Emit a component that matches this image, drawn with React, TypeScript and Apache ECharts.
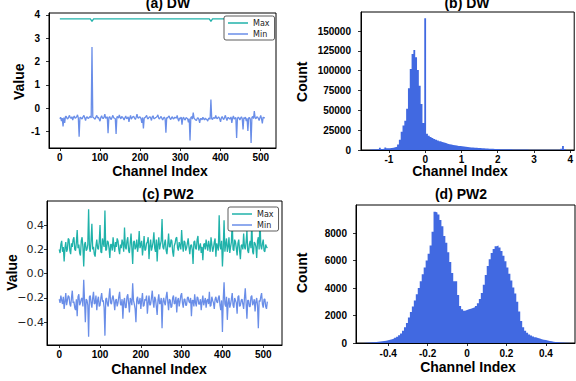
import React, { useEffect, useRef } from "react";
import * as echarts from "echarts";

// ---------- data ----------
const LINE_STEP = 2; // channel spacing of the sampled min/max values
const DW_MAX_STEP = 4;

const dwMax = [
  3.83, 3.83, 3.83, 3.83, 3.83, 3.83, 3.83, 3.83, 3.83, 3.83, 3.83, 3.83, 3.83, 3.83, 3.83, 3.83,
  3.83, 3.83, 3.83, 3.83, 3.73, 3.83, 3.83, 3.83, 3.83, 3.83, 3.83, 3.83, 3.83, 3.83, 3.83, 3.83,
  3.83, 3.83, 3.83, 3.83, 3.83, 3.83, 3.83, 3.83, 3.83, 3.83, 3.83, 3.83, 3.83, 3.83, 3.83, 3.83,
  3.83, 3.83, 3.83, 3.83, 3.83, 3.83, 3.83, 3.83, 3.83, 3.83, 3.83, 3.83, 3.83, 3.83, 3.83, 3.83,
  3.83, 3.83, 3.83, 3.83, 3.83, 3.83, 3.83, 3.83, 3.83, 3.83, 3.83, 3.83, 3.83, 3.83, 3.83, 3.83,
  3.83, 3.83, 3.83, 3.83, 3.83, 3.83, 3.83, 3.83, 3.83, 3.83, 3.83, 3.83, 3.83, 3.83, 3.73, 3.83,
  3.83, 3.83, 3.83, 3.83, 3.83, 3.83, 3.83, 3.83, 3.83, 3.83, 3.83, 3.83, 3.83, 3.83, 3.83, 3.83,
  3.83, 3.83, 3.83, 3.83, 3.83, 3.83, 3.83, 3.83, 3.83, 3.83, 3.83, 3.83, 3.83, 3.83, 3.83, 3.83,
];

const dwMin = [
  -0.45, -0.38, -0.55, -0.42, -0.78, -0.40, -0.62, -0.35, -0.35, -0.44, -0.45, -0.37, -0.30, -0.41, -0.42, -0.36,
  -0.50, -0.39, -0.33, -0.43, -0.40, -0.36, -0.28, -0.42, -1.22, -0.40, -0.38, -0.45, -0.44, -0.35, -0.30, -0.41,
  -0.52, -0.39, -0.36, -0.43, -0.42, -0.37, -0.34, -0.41, 2.63, -0.38, -0.40, -0.44, -0.46, -0.36, -0.30, -0.42,
  -0.38, -0.47, -0.55, -0.39, -0.32, -0.41, -0.44, -0.37, -0.25, -0.43, -0.40, -0.36, -1.07, -0.40, -0.35, -0.44,
  -0.48, -0.38, -0.30, -0.41, -0.42, -0.45, -1.10, -0.37, -0.36, -0.42, -0.28, -0.39, -0.45, -0.35, -0.38, -0.43,
  -0.50, -0.40, -0.33, -0.44, -0.42, -0.37, -0.58, -0.41, -0.30, -0.46, -0.40, -0.36, -0.35, -0.42, -0.48, -0.38,
  -0.25, -0.40, -0.42, -0.37, -0.38, -0.44, -0.62, -0.39, -0.86, -0.42, -0.40, -0.36, -0.30, -0.43, -0.45, -0.38,
  -0.36, -0.41, -0.52, -0.37, -0.32, -0.44, -0.44, -0.40, -0.38, -0.35, -0.28, -0.42, -0.46, -0.39, -0.35, -0.43,
  -0.50, -0.41, -0.38, -0.44, -1.04, -0.39, -0.42, -0.36, -0.33, -0.43, -0.48, -0.40, -0.36, -0.45, -0.44, -0.38,
  -0.40, -0.42, -0.30, -0.46, -0.55, -0.41, -0.45, -0.37, -0.70, -0.43, -0.38, -0.47, -0.50, -0.40, -0.42, -0.45,
  -0.60, -0.44, -1.38, -0.40, -0.35, -0.46, -0.18, -0.42, -0.46, -0.50, -0.52, -0.43, -0.40, -0.47, -0.62, -0.44,
  -0.44, -0.49, -0.38, -0.45, -0.50, -0.42, -0.46, -0.48, -0.55, -0.44, -0.42, -0.47, 0.38, -0.45, -0.48, -0.41,
  -0.40, -0.44, -0.30, -0.42, -0.45, -0.38, -0.38, -0.46, -0.58, -0.41, -0.35, -0.44, -0.48, -0.39, -0.30, -0.43,
  -0.52, -0.40, -0.40, -0.45, -0.45, -0.37, -0.62, -0.42, -0.33, -0.46, -0.42, -0.39, -1.27, -0.44, -0.38, -0.41,
  -0.50, -0.42, -0.36, -0.45, -0.90, -0.40, -0.44, -0.38, -0.55, -0.43, -0.97, -0.41, -0.40, -0.46, -1.48, -0.39,
  -0.35, -0.44, -0.12, -0.40, -0.45, -0.37, -0.38, -0.43, -0.52, -0.41, -0.30, -0.45, -0.65, -0.38, -0.40, -0.42,
];

const pwMax = [
  0.20, 0.17, 0.24, 0.27, 0.18, 0.22, 0.10, 0.21, 0.26, 0.18, 0.20, 0.29, 0.28, 0.19, 0.16, 0.25,
  0.22, 0.28, 0.30, 0.20, 0.19, 0.26, 0.36, 0.21, 0.24, 0.17, 0.15, 0.27, 0.30, 0.22, 0.06, 0.24,
  0.26, 0.19, 0.20, 0.24, 0.53, 0.21, 0.18, 0.27, 0.41, 0.20, 0.22, 0.16, 0.14, 0.23, 0.28, 0.21,
  0.20, 0.26, 0.40, 0.18, 0.17, 0.29, 0.25, 0.22, 0.52, 0.19, 0.20, 0.27, 0.26, 0.21, 0.13, 0.24,
  0.24, 0.19, 0.30, 0.23, 0.18, 0.26, 0.22, 0.29, 0.27, 0.20, 0.16, 0.24, 0.21, 0.28, 0.25, 0.18,
  0.38, 0.22, 0.20, 0.27, 0.30, 0.19, 0.17, 0.25, 0.33, 0.21, 0.08, 0.26, 0.27, 0.20, 0.22, 0.28,
  0.18, 0.23, 0.35, 0.21, 0.24, 0.27, 0.15, 0.22, 0.31, 0.19, 0.20, 0.25, 0.26, 0.30, 0.12, 0.23,
  0.28, 0.19, 0.22, 0.26, 0.34, 0.21, 0.18, 0.28, 0.10, 0.24, 0.30, 0.20, 0.24, 0.27, 0.45, 0.22,
  0.20, 0.25, 0.28, 0.19, 0.16, 0.24, 0.33, 0.22, 0.22, 0.28, 0.27, 0.18, 0.14, 0.23, 0.25, 0.29,
  0.30, 0.21, 0.19, 0.26, 0.23, 0.20, 0.36, 0.24, 0.18, 0.27, 0.26, 0.19, 0.21, 0.25, 0.29, 0.22,
  0.16, 0.23, 0.24, 0.20, 0.08, 0.26, 0.27, 0.21, 0.20, 0.28, 0.31, 0.19, 0.22, 0.25, 0.17, 0.22,
  0.11, 0.24, 0.25, 0.20, 0.28, 0.23, 0.19, 0.27, 0.23, 0.18, 0.30, 0.24, 0.18, 0.21, 0.26, 0.29,
  0.14, 0.25, 0.22, 0.19, 0.48, 0.23, 0.20, 0.27, 0.06, 0.21, 0.44, 0.18, 0.24, 0.29, 0.18, 0.22,
  0.30, 0.17, 0.22, 0.26, 0.43, 0.20, 0.19, 0.28, 0.26, 0.21, 0.15, 0.25, 0.28, 0.19, 0.12, 0.23,
  0.24, 0.20, 0.33, 0.22, 0.20, 0.26, 0.35, 0.19, 0.17, 0.24, 0.27, 0.21, 0.43, 0.18, 0.16, 0.26,
  0.25, 0.22, 0.13, 0.27, 0.30, 0.20, 0.46, 0.23, 0.20, 0.25, 0.28, 0.19, 0.18, 0.24, 0.22, 0.21,
];

const pwMin = [
  -0.21, -0.24, -0.18, -0.22, -0.25, -0.19, -0.29, -0.23, -0.16, -0.26, -0.22, -0.18, -0.19, -0.25, -0.27, -0.20,
  -0.14, -0.24, -0.23, -0.28, -0.30, -0.21, -0.35, -0.19, -0.17, -0.26, -0.24, -0.21, -0.20, -0.27, -0.05, -0.22,
  -0.40, -0.21, -0.22, -0.26, -0.52, -0.19, -0.18, -0.24, -0.28, -0.20, -0.15, -0.25, -0.24, -0.18, -0.30, -0.22,
  -0.19, -0.27, -0.26, -0.20, -0.16, -0.23, -0.22, -0.28, -0.51, -0.21, -0.20, -0.25, -0.27, -0.19, -0.12, -0.24,
  -0.25, -0.20, -0.18, -0.23, -0.30, -0.22, -0.21, -0.27, -0.24, -0.19, -0.15, -0.25, -0.26, -0.21, -0.37, -0.23,
  -0.20, -0.28, -0.28, -0.19, -0.17, -0.24, -0.32, -0.20, -0.22, -0.26, -0.08, -0.22, -0.25, -0.29, -0.40, -0.21,
  -0.19, -0.25, -0.24, -0.20, -0.29, -0.22, -0.16, -0.27, -0.26, -0.21, -0.22, -0.18, -0.33, -0.24, -0.18, -0.26,
  -0.25, -0.20, -0.14, -0.23, -0.28, -0.19, -0.21, -0.27, -0.34, -0.22, -0.17, -0.25, -0.24, -0.20, -0.45, -0.23,
  -0.20, -0.24, -0.26, -0.19, -0.15, -0.23, -0.30, -0.21, -0.22, -0.28, -0.27, -0.20, -0.18, -0.25, -0.24, -0.19,
  -0.32, -0.22, -0.20, -0.27, -0.23, -0.18, -0.16, -0.24, -0.28, -0.21, -0.21, -0.26, -0.26, -0.20, -0.19, -0.23,
  -0.24, -0.20, -0.35, -0.22, -0.22, -0.27, -0.17, -0.24, -0.27, -0.19, -0.20, -0.25, -0.25, -0.21, -0.30, -0.23,
  -0.18, -0.26, -0.23, -0.20, -0.28, -0.22, -0.21, -0.25, -0.15, -0.27, -0.26, -0.19, -0.22, -0.24, -0.29, -0.21,
  -0.19, -0.23, -0.24, -0.20, -0.18, -0.26, -0.30, -0.22, -0.48, -0.21, -0.07, -0.25, -0.27, -0.19, -0.38, -0.24,
  -0.20, -0.28, -0.25, -0.21, -0.16, -0.26, -0.28, -0.20, -0.22, -0.24, -0.33, -0.19, -0.18, -0.27, -0.26, -0.22,
  -0.21, -0.25, -0.29, -0.20, -0.12, -0.24, -0.37, -0.22, -0.22, -0.27, -0.27, -0.19, -0.18, -0.26, -0.24, -0.21,
  -0.31, -0.23, -0.20, -0.26, -0.45, -0.22, -0.23, -0.19, -0.16, -0.25, -0.28, -0.21, -0.21, -0.27, -0.29, -0.23,
];

// DW histogram: bins of width 0.05 starting at -1.525
const DW_BIN_START = -1.525;
const DW_BIN_WIDTH = 0.05;
const dwCounts = [
  600, 900, 800, 1000, 1300, 2800, 1400, 1600, 3200, 2100,
  2300, 2600, 2900, 3400, 4200, 7000, 13000, 23000, 31000, 37000,
  52000, 78000, 102000, 121000, 126000, 117000, 101000, 81000, 58000, 34000,
  166000, 20500, 18000, 16500, 15000, 14000, 13000, 12000, 11000, 10200,
  9400, 8700, 8000, 7400, 6900, 6400, 6000, 5600, 5200, 4900,
  4600, 4300, 4000, 3700, 3500, 3300, 3100, 2900, 2700, 2500,
  2400, 2200, 2100, 1950, 1800, 1700, 1600, 1500, 1400, 1300,
  1200, 1100, 1050, 1000, 950, 900, 850, 800, 750, 700,
  650, 620, 590, 560, 530, 500, 480, 460, 440, 420,
  400, 380, 360, 340, 330, 320, 310, 300, 290, 280,
  270, 260, 250, 240, 300, 1500, 5000, 1200,
];

// PW2 histogram: bins of width 0.01 starting at -0.52
const PW_BIN_START = -0.52;
const PW_BIN_WIDTH = 0.01;
const pwCounts = [
  20, 30, 40, 50, 60, 75, 90, 110, 130, 150,
  170, 200, 230, 270, 320, 380, 460, 560, 700, 900,
  1150, 1450, 1850, 2250, 2650, 3100, 3550, 4000, 4500, 5000,
  5500, 6000, 6500, 7100, 8100, 9550, 9500, 9350, 8950, 8500,
  7800, 7300, 6600, 5900, 5100, 4500, 4500, 3500, 2700, 2450,
  2350, 2400, 2450, 2500, 2550, 2600, 2700, 2900, 3200, 3650,
  4250, 4950, 5600, 6100, 6550, 6850, 7050, 7100, 6950, 6700,
  6350, 5950, 5500, 5050, 4550, 4050, 3600, 3000, 2300, 1600,
  1150, 900, 750, 620, 540, 470, 410, 360, 320, 280,
  240, 210, 180, 150, 125, 100, 80, 65, 50, 40,
  30, 20, 15, 10,
];

// tick labels
const channelTicks = [0, 100, 200, 300, 400, 500];
const dwLineYTicks = [-1, 0, 1, 2, 3, 4];
const dwHistXTicks = [-1, 0, 1, 2, 3, 4];
const dwHistYTicks = [0, 25000, 50000, 75000, 100000, 125000, 150000];
const pwLineYTicks = [-0.4, -0.2, 0, 0.2, 0.4];
const pwHistXTicks = [-0.4, -0.2, 0, 0.2, 0.4];
const pwHistYTicks = [0, 2000, 4000, 6000, 8000];

// ---------- styles ----------
const MAX_COLOR = "#20B2AA";
const MIN_COLOR = "#6A8EE8";
const HIST_COLOR = "#4169E1";
const SANS = "'Liberation Sans', Arial, sans-serif";

const plainFormatter = (v: number) => String(Math.round(v * 1000) / 1000);

const tickLabel = (values: number[], margin: number, extra: any = {}) => ({
  customValues: values,
  margin,
  fontFamily: SANS,
  fontWeight: "bold",
  fontSize: 10,
  color: "#000",
  formatter: plainFormatter,
  ...extra,
});
const tick = (values: number[]) => ({
  show: true,
  customValues: values,
  inside: false,
  length: 3,
  lineStyle: { color: "#000", width: 0.8 },
});

const makeAxis = (
  gridIndex: number,
  min: number,
  max: number,
  ticks: number[],
  margin: number,
  labelExtra: any = {}
) => ({
  type: "value",
  gridIndex,
  min,
  max,
  splitLine: { show: false },
  axisLine: { show: true, onZero: false, lineStyle: { color: "#000", width: 1 } },
  axisTick: tick(ticks),
  axisLabel: tickLabel(ticks, margin, labelExtra),
});

// histogram outline as step points: each bin's left edge with its count, plus the final right edge
const histPoints = (start: number, width: number, counts: number[]) => {
  const pts = counts.map((c, i) => [start + i * width, c]);
  pts.push([start + counts.length * width, counts[counts.length - 1]]);
  return pts;
};

const histSeries = (axisIndex: number, points: number[][]) => ({
  type: "line",
  xAxisIndex: axisIndex,
  yAxisIndex: axisIndex,
  step: "end",
  data: points,
  showSymbol: false,
  symbol: "none",
  lineStyle: { width: 0, color: HIST_COLOR },
  areaStyle: { color: HIST_COLOR, opacity: 1, origin: "start" },
  itemStyle: { color: HIST_COLOR },
  clip: true,
});

const lineSeries = (name: string, axisIndex: number, values: number[], step: number, color: string) => ({
  name,
  type: "line",
  xAxisIndex: axisIndex,
  yAxisIndex: axisIndex,
  data: values.map((v, i) => [i * step, v]),
  showSymbol: false,
  symbol: "none",
  lineStyle: { color, width: 1.3 },
  itemStyle: { color },
  clip: true,
});

const text = (t: string, x: number, y: number, size: number, rotate = 0, extra: any = {}) => ({
  type: "text",
  x,
  y,
  rotation: rotate,
  style: {
    text: t,
    fontFamily: SANS,
    fontWeight: "bold",
    fontSize: size,
    fill: "#000",
    align: "center",
    verticalAlign: "middle",
    ...extra,
  },
});

const legendBox = (left: number, top: number) => ({
  data: ["Max", "Min"],
  left,
  top,
  orient: "vertical",
  icon: "rect",
  itemWidth: 20,
  itemHeight: 1.5,
  itemGap: 3,
  padding: [3, 5, 2, 4],
  borderColor: "#333",
  borderWidth: 0.8,
  borderRadius: 2,
  backgroundColor: "#fff",
  selectedMode: false,
  textStyle: { fontFamily: "'DejaVu Sans', sans-serif", fontSize: 8, color: "#222" },
});

export default function App() {
  const ref = useRef<HTMLDivElement>(null);
  useEffect(() => {
    if (!ref.current) return;
    const chart = echarts.init(ref.current, null, { renderer: "svg" });
    const pwYFormatter = (v: number) => {
      const s = Math.abs(v).toFixed(1);
      return v < -1e-9 ? "\u2212" + s : s;
    };
    chart.setOption({
      animation: false,
      backgroundColor: "#fff",
      grid: [
        { left: 49, top: 13, width: 227, height: 135, show: true, borderColor: "#000", borderWidth: 1, containLabel: false },
        { left: 361, top: 12, width: 214, height: 138, show: true, borderColor: "#000", borderWidth: 1, containLabel: false },
        { left: 47, top: 201, width: 235, height: 144, show: true, borderColor: "#000", borderWidth: 1, containLabel: false },
        { left: 356, top: 205, width: 219, height: 138, show: true, borderColor: "#000", borderWidth: 1, containLabel: false },
      ],
      xAxis: [
        makeAxis(0, -27, 538, channelTicks, 4),
        makeAxis(1, -1.77, 4.11, dwHistXTicks, 4),
        makeAxis(2, -30, 546, channelTicks, 4),
        makeAxis(3, -0.5635, 0.548, pwHistXTicks, 5),
      ],
      yAxis: [
        makeAxis(0, -1.7, 4.085, dwLineYTicks, 9),
        makeAxis(1, 0, 174000, dwHistYTicks, 10),
        makeAxis(2, -0.587, 0.598, pwLineYTicks, 3, {
          fontWeight: "normal",
          fontFamily: "'DejaVu Sans', sans-serif",
          fontSize: 11,
          color: "#222",
          formatter: pwYFormatter,
        }),
        makeAxis(3, 0, 10050, pwHistYTicks, 9),
      ],
      legend: [legendBox(224, 16), legendBox(228, 207)],
      series: [
        lineSeries("Max", 0, dwMax, DW_MAX_STEP, MAX_COLOR),
        lineSeries("Min", 0, dwMin, LINE_STEP, MIN_COLOR),
        histSeries(1, histPoints(DW_BIN_START, DW_BIN_WIDTH, dwCounts)),
        lineSeries("Max", 2, pwMax, LINE_STEP, MAX_COLOR),
        lineSeries("Min", 2, pwMin, LINE_STEP, MIN_COLOR),
        histSeries(3, histPoints(PW_BIN_START, PW_BIN_WIDTH, pwCounts)),
      ],
      graphic: [
        text("(a) DW", 168, 3, 14),
        text("(b) DW", 467, 3, 14),
        text("(c) PW2", 168, 193.5, 14),
        text("(d) PW2", 461, 193.5, 14),
        text("Channel Index", 160, 170.5, 14),
        text("Channel Index", 460, 171, 14),
        text("Channel Index", 159, 368.5, 14),
        text("Channel Index", 468, 367, 14),
        text("Value", 19, 81.7, 14, Math.PI / 2),
        text("Count", 302, 81.7, 14, Math.PI / 2),
        text("Value", 11.5, 272.5, 14, Math.PI / 2),
        text("Count", 302, 272.8, 14, Math.PI / 2),
      ],
    });
    return () => chart.dispose();
  }, []);
  return (
    <div
      ref={ref}
      style={{ position: "fixed", left: 0, top: 0, width: 576, height: 381, background: "#fff" }}
    />
  );
}
